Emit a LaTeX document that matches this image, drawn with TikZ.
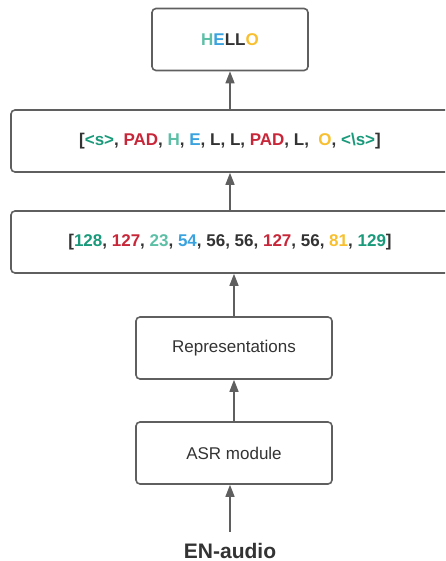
\documentclass[tikz,border=0pt]{standalone}
\usepackage{fontspec}
\setmainfont{Liberation Sans}
\usetikzlibrary{arrows.meta}
\definecolor{tokgreen}{HTML}{1B9A7B}
\definecolor{tokred}{HTML}{C8273A}
\definecolor{toklight}{HTML}{5CBFA6}
\definecolor{tokblue}{HTML}{3AA3DF}
\definecolor{tokyellow}{HTML}{F8C030}
\definecolor{tokdark}{HTML}{333333}
\definecolor{linegray}{HTML}{5F5F5F}

\begin{document}
\begin{tikzpicture}[x=1pt,y=-1pt,
    box/.style={draw=linegray,line width=1.6pt,rounded corners=4pt,minimum height=62pt,
      text=tokdark,font=\fontsize{17}{20}\selectfont},
    up/.style={draw=linegray,line width=1.4pt,-{Triangle[length=12pt,width=9pt]}}]
      \useasboundingbox (0,0) rectangle (445,561);
      \clip (0,0) rectangle (445,561);
      \node[box,minimum width=156pt,font=\fontsize{17}{20}\selectfont\bfseries] (hello) at (230,39.5)
        {\textcolor{toklight}{H}\textcolor{tokblue}{E}LL\textcolor{tokyellow}{O}};
      \node[box,minimum width=438pt,font=\fontsize{17}{20}\selectfont\bfseries] (tokens) at (230,141)
        {[\textcolor{tokgreen}{<s>}, \textcolor{tokred}{PAD}, \textcolor{toklight}{H}, \textcolor{tokblue}{E}, L, L, \textcolor{tokred}{PAD}, L,\ \ \textcolor{tokyellow}{O}, \textcolor{tokgreen}{<\textbackslash s>}]};
      \node[box,minimum width=438pt,font=\fontsize{17}{20}\selectfont\bfseries] (ids) at (230,242)
        {[\textcolor{tokgreen}{128}, \textcolor{tokred}{127}, \textcolor{toklight}{23}, \textcolor{tokblue}{54}, 56, 56, \textcolor{tokred}{127}, 56, \textcolor{tokyellow}{81}, \textcolor{tokgreen}{129}]};
      \node[box,minimum width=196pt] (repr) at (234,348) {Representations};
      \node[box,minimum width=196pt] (asr) at (234,453) {ASR module};
      \node[anchor=base,inner sep=0pt,text=tokdark,font=\fontsize{21}{24}\selectfont\bfseries] (audio) at (230,558) {EN-audio};
      \draw[up,shorten <=11pt] (audio.north) -- (audio.north |- asr.south);
      \draw[up] (asr.north) -- (repr.south);
      \draw[up] (repr.north) -- (repr.north |- ids.south);
      \draw[up] (ids.north) -- (tokens.south);
      \draw[up] (tokens.north) -- (hello.south);
\end{tikzpicture}
\end{document}
